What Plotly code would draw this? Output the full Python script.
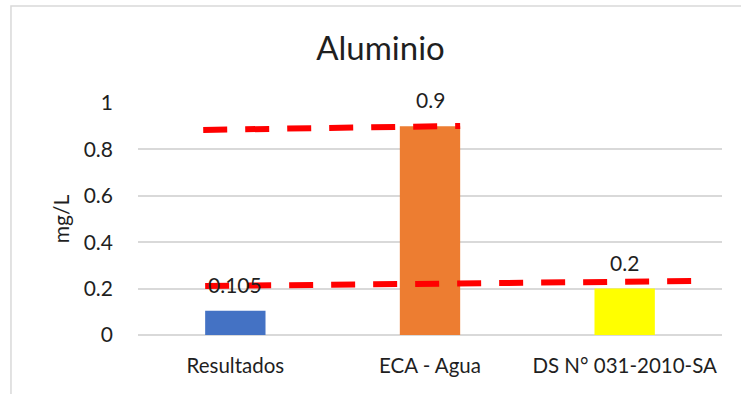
import plotly.graph_objects as go

# Aluminium concentration vs. reference limits
categories = ["Resultados", "ECA - Agua", "DS N° 031-2010-SA"]
values = [0.105, 0.9, 0.2]
bar_colors = ["#4472C4", "#ED7D31", "#FFFF00"]
value_labels = ["0.105", "0.9", "0.2"]

# Hand-drawn red dashed guide lines (category-axis x, mg/L y)
eca_line_x = [-0.165, 1.155]
eca_line_y = [0.884, 0.901]
ds_line_x = [-0.155, 2.41]
ds_line_y = [0.211, 0.233]

y_ticks = [0, 0.2, 0.4, 0.6, 0.8, 1]
y_tick_text = ["0", "0.2", "0.4", "0.6", "0.8", "1"]

FONT = "Lato, 'Open Sans', sans-serif"
TEXT = "#1f1f1f"

fig = go.Figure()
fig.add_trace(go.Bar(
    x=list(range(len(categories))), y=values,
    marker=dict(color=bar_colors, line=dict(width=0)),
    width=0.31, hoverinfo="skip", showlegend=False,
))

for lx, ly in ((eca_line_x, eca_line_y), (ds_line_x, ds_line_y)):
    fig.add_trace(go.Scatter(
        x=lx, y=ly, mode="lines",
        line=dict(color="#FF0000", width=6, dash="24px,18px"),
        hoverinfo="skip", showlegend=False, cliponaxis=False,
    ))

for i, (v, t) in enumerate(zip(values, value_labels)):
    fig.add_annotation(
        x=i, y=v, text=t, showarrow=False, yanchor="bottom", yshift=12,
        font=dict(family=FONT, size=21, color=TEXT),
    )

# Light outer chart border
fig.add_shape(type="rect", xref="paper", yref="paper",
              x0=-0.2175, x1=1.3, y0=-0.6, y1=1.418,
              line=dict(color="#D9D9D9", width=1.5), layer="below")

fig.update_layout(
    width=741, height=394,
    margin=dict(l=138, r=19, t=103, b=59),
    paper_bgcolor="white", plot_bgcolor="white",
    title=dict(text="Aluminio", x=0.5135, xanchor="center", y=0.877, yanchor="middle",
               font=dict(family=FONT, size=33, color=TEXT)),
    xaxis=dict(
        tickmode="array", tickvals=list(range(len(categories))), ticktext=categories,
        range=[-0.5, 2.5], showgrid=False, zeroline=False, showline=False,
        ticks="", ticklabelstandoff=16,
        tickfont=dict(family=FONT, size=20.5, color=TEXT),
    ),
    yaxis=dict(
        range=[0, 1], tickmode="array", tickvals=y_ticks, ticktext=y_tick_text,
        showgrid=True, gridcolor="#D9D9D9", gridwidth=1.5,
        zeroline=True, zerolinecolor="#D9D9D9", zerolinewidth=1.5,
        showline=False, ticks="", ticklabelstandoff=24,
        tickfont=dict(family=FONT, size=21, color=TEXT),
        title=dict(text="mg/L", font=dict(family=FONT, size=21, color=TEXT), standoff=8),
    ),
)

fig.write_html("out.html")
